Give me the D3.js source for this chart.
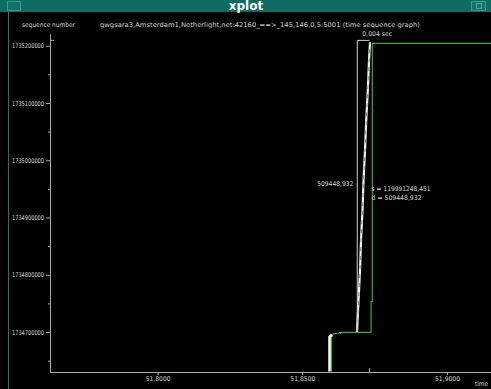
<!DOCTYPE html>
<html>
<head>
<meta charset="utf-8">
<script src="https://cdn.jsdelivr.net/npm/d3@7"></script>
<style>
  html, body { margin: 0; padding: 0; background: #000; }
  svg { display: block; }
  text { font-family: "DejaVu Sans", sans-serif; }
</style>
</head>
<body>
<svg id="chart" width="491" height="389"></svg>
<script>
// ---- data -------------------------------------------------------------
const yTickValues = [1734700000, 1734800000, 1734900000, 1735000000, 1735100000, 1735200000];
const yMinorValues = [1734650000, 1734750000, 1734850000, 1734950000, 1735050000, 1735150000];
const xTickValues = [51.80, 51.85, 51.90];

// segments sent before the burst (time in s, sequence number)
const lowTimes = [51.85940, 51.85940, 51.85975, 51.86026];
const lowSeqs  = [1734620000, 1734691270, 1734693500, 1734694760];

// isolated segments on the window plateau
const dotTimes = [51.86295, 51.86310];
const dotSeqs  = [1734698100, 1734698400];

// the steep burst
const burstTimes = [51.86890, 51.86942, 51.86994, 51.87028, 51.87080, 51.87115,
                    51.87167, 51.87208, 51.87263, 51.87305, 51.87339];
const burstSeqs  = [1734700000, 1734755885, 1734808277, 1734860669, 1734913061, 1734965453,
                    1735017845, 1735070237, 1735122629, 1735175021, 1735206456];

// advertised window edge (green)
const winTimes = [51.86009, 51.86009, 51.86061, 51.86361, 51.87374, 51.87374, 51.87419, 51.87419, 51.91600];
const winSeqs  = [1734620000, 1734691270, 1734696510, 1734699480, 1734699480, 1734752920, 1734752920, 1735204180, 1735204180];

// ruler measurement
const rulerStartTime = 51.86898;
const rulerStartSeq = 1734699800;
const rulerSlope = 119991248.451;
const rulerDelta = 509448.932;

const titleText = "gwgsara3,Amsterdam1,Netherlight,net:42160_==>_145,146,0,5:5001 (time sequence graph)";

// ---- layout -----------------------------------------------------------
const W = 491, H = 389;
const plot = { left: 50, right: 491, top: 34, bottom: 372 };
const fg = "#d6d6d6";
const axisColor = "#a9a9a9";

const svg = d3.select("#chart");

const x = d3.scaleLinear().domain([51.76279, 51.91520]).range([plot.left, plot.right]);
const y = d3.scaleLinear().domain([1734630144, 1735220430]).range([plot.bottom, plot.top]);

const fmtComma = s => s.replace(/\./g, ",");

// window frame
svg.append("rect").attr("x", 0).attr("y", 0).attr("width", W).attr("height", H).attr("fill", "#000");
svg.append("rect").attr("x", 0).attr("y", 0).attr("width", W).attr("height", 12).attr("fill", "#0e6c62");
svg.append("rect").attr("x", 7.5).attr("y", 1.5).attr("width", 13).attr("height", 9)
  .attr("fill", "#0f7468").attr("stroke", "#3a9a8e").attr("stroke-width", 1);
svg.append("rect").attr("x", 471.5).attr("y", 1.5).attr("width", 14).attr("height", 9)
  .attr("fill", "#0f7468").attr("stroke", "#3a9a8e").attr("stroke-width", 1);
svg.append("rect").attr("x", 476.5).attr("y", 3.5).attr("width", 5).attr("height", 5)
  .attr("fill", "none").attr("stroke", "#4aa89c").attr("stroke-width", 1);
svg.append("line").attr("x1", 8.5).attr("x2", 8.5).attr("y1", 12).attr("y2", H)
  .attr("stroke", "#127a70").attr("stroke-width", 1);
svg.append("text").attr("x", 246).attr("y", 10).attr("text-anchor", "middle")
  .attr("fill", "#ffffff").attr("font-family", "Liberation Serif, serif")
  .attr("font-weight", "bold").attr("font-size", 12).text("xplot");

// header texts
svg.append("text").attr("x", 22).attr("y", 27).attr("fill", fg).attr("font-size", 6.5)
  .attr("textLength", 53).attr("lengthAdjust", "spacingAndGlyphs").text("sequence number");
svg.append("text").attr("x", 100).attr("y", 27).attr("fill", fg).attr("font-size", 6.5)
  .attr("textLength", 320).attr("lengthAdjust", "spacingAndGlyphs").text(titleText);

// axes
const yAxis = d3.axisLeft(y).tickValues(yTickValues).tickSize(4).tickPadding(2).tickSizeOuter(0)
  .tickFormat(d3.format("d"));
const yMinor = d3.axisLeft(y).tickValues(yMinorValues).tickSize(2).tickSizeOuter(0).tickFormat("");
const xAxis = d3.axisBottom(x).tickValues(xTickValues).tickSize(3).tickPadding(1).tickSizeOuter(0)
  .tickFormat(d => fmtComma(d3.format(".4f")(d)));

function styleAxis(g) {
  g.select(".domain").attr("stroke", axisColor);
  g.selectAll(".tick line").attr("stroke", axisColor);
  g.selectAll(".tick text").attr("fill", fg).attr("font-size", 6.5)
    .attr("font-family", "DejaVu Sans, sans-serif");
}

const gy = svg.append("g").attr("transform", `translate(${plot.left},0)`).call(yAxis).call(styleAxis);
gy.selectAll(".tick text").attr("textLength", 32).attr("lengthAdjust", "spacingAndGlyphs");
svg.append("g").attr("transform", `translate(${plot.left},0)`).call(yMinor).call(styleAxis);
const gx = svg.append("g").attr("transform", `translate(0,${plot.bottom})`).call(xAxis).call(styleAxis);
gx.selectAll(".tick text").attr("textLength", 25).attr("lengthAdjust", "spacingAndGlyphs");

svg.append("text").attr("x", 475).attr("y", 386).attr("fill", fg).attr("font-size", 6.5)
  .attr("textLength", 13).attr("lengthAdjust", "spacingAndGlyphs").text("time");

// plot clip
svg.append("clipPath").attr("id", "plotClip").append("rect")
  .attr("x", plot.left + 1).attr("y", plot.top).attr("width", plot.right - plot.left)
  .attr("height", plot.bottom - plot.top - 0.5);
const body = svg.append("g").attr("clip-path", "url(#plotClip)");

const line = d3.line().x(d => x(d[0])).y(d => y(d[1]));
const zip = (a, b) => a.map((v, i) => [v, b[i]]);

// advertised window
body.append("path").datum(zip(winTimes, winSeqs)).attr("d", line)
  .attr("fill", "none").attr("stroke", "#34b034").attr("stroke-width", 1.2);

// data segments
body.append("path").datum(zip(lowTimes, lowSeqs)).attr("d", line)
  .attr("fill", "none").attr("stroke", "#ffffff").attr("stroke-width", 2.6);
body.append("path").datum(zip(dotTimes, dotSeqs)).attr("d", line)
  .attr("fill", "none").attr("stroke", "#ffffff").attr("stroke-width", 2.2);
body.append("path").datum(zip(burstTimes, burstSeqs)).attr("d", line)
  .attr("fill", "none").attr("stroke", "#f4f4f4").attr("stroke-width", 2.2);
body.append("path").datum(zip(burstTimes, burstSeqs)).attr("d", line)
  .attr("fill", "none").attr("stroke", "#7a7a7a").attr("stroke-width", 0.9)
  .attr("stroke-dasharray", "4,5");

// ruler measurement
const rulerDt = rulerDelta / rulerSlope;
const rx0 = x(rulerStartTime), rx1 = x(rulerStartTime + rulerDt);
const ry0 = y(rulerStartSeq), ry1 = y(rulerStartSeq + rulerDelta);
const rulerColor = "#cfcfcf";
svg.append("line").attr("x1", rx0).attr("x2", rx0).attr("y1", ry0).attr("y2", ry1)
  .attr("stroke", rulerColor).attr("stroke-width", 1);
svg.append("line").attr("x1", rx0).attr("x2", rx1).attr("y1", ry1).attr("y2", ry1)
  .attr("stroke", rulerColor).attr("stroke-width", 1);
// projections of the ruler end onto the axes
svg.append("line").attr("x1", plot.left).attr("x2", plot.left + 4).attr("y1", ry1).attr("y2", ry1)
  .attr("stroke", axisColor);
svg.append("line").attr("x1", rx1).attr("x2", rx1).attr("y1", plot.bottom).attr("y2", plot.bottom - 4)
  .attr("stroke", axisColor);

svg.append("text").attr("x", rx0 + 5).attr("y", ry1 - 4).attr("fill", fg).attr("font-size", 6.5)
  .attr("textLength", 30).attr("lengthAdjust", "spacingAndGlyphs")
  .text(fmtComma(rulerDt.toFixed(3)) + " sec");
svg.append("text").attr("x", rx0 - 4).attr("y", (ry0 + ry1) / 2 - 0.5).attr("text-anchor", "end")
  .attr("fill", fg).attr("font-size", 6.5)
  .attr("textLength", 36).attr("lengthAdjust", "spacingAndGlyphs")
  .text(fmtComma(rulerDelta.toFixed(3)));
svg.append("text").attr("x", rx1 + 2).attr("y", (ry0 + ry1) / 2 + 5).attr("fill", fg).attr("font-size", 6.5)
  .attr("textLength", 59).attr("lengthAdjust", "spacingAndGlyphs")
  .text("s = " + fmtComma(rulerSlope.toFixed(3)));
svg.append("text").attr("x", rx1 + 2).attr("y", (ry0 + ry1) / 2 + 14).attr("fill", fg).attr("font-size", 6.5)
  .attr("textLength", 50).attr("lengthAdjust", "spacingAndGlyphs")
  .text("d = " + fmtComma(rulerDelta.toFixed(3)));
</script>
</body>
</html>
